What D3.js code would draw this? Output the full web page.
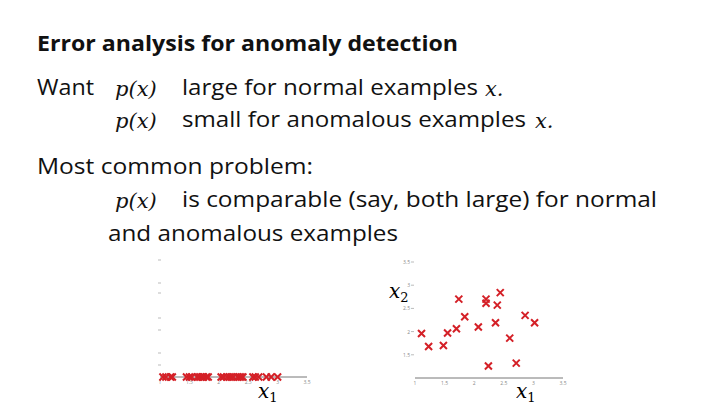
<!DOCTYPE html>
<html><head><meta charset="utf-8">
<script src="https://cdn.jsdelivr.net/npm/d3@7"></script>
<style>body{margin:0;background:#fff}</style></head>
<body><svg id="chart-svg" width="720" height="405"></svg>
<script>
// 1-D view: x1 values only
const leftX = [1.05,1.1,1.18,1.21,1.45,1.5,1.54,1.63,1.66,1.69,1.72,1.74,1.79,1.82,2.04,2.08,2.14,2.18,2.21,2.25,2.32,2.35,2.38,2.41,2.58,2.62,2.68,2.81,2.89,3.0];
// 2-D view
const ptX = [1.11,1.23,1.48,1.55,1.70,1.74,1.84,2.07,2.20,2.20,2.24,2.36,2.39,2.44,2.60,2.71,2.86,3.02];
const ptY = [1.96,1.68,1.70,1.97,2.06,2.70,2.32,2.10,2.70,2.61,1.26,2.19,2.57,2.84,1.86,1.32,2.35,2.19];
const xTicks = [1,1.5,2,2.5,3,3.5];
const yTicks = [1,1.5,2,2.5,3,3.5];

const svg = d3.select("#chart-svg");
const font = "'Open Sans', sans-serif";
const mathFont = "'DejaVu Serif', 'Liberation Serif', serif";

function txt(x, y, s, opts = {}) {
  const t = svg.append("text").attr("x", x).attr("y", y).text(s)
    .attr("font-family", opts.math ? mathFont : font)
    .attr("font-size", opts.size || 21)
    .attr("font-weight", opts.bold ? "bold" : "normal")
    .attr("font-style", opts.italic ? "italic" : "normal")
    .attr("fill", "#111");
  if (opts.len) t.attr("textLength", opts.len).attr("lengthAdjust", "spacingAndGlyphs");
}
txt(37, 51, "Error analysis for anomaly detection", {bold: true, len: 421});
txt(37, 95, "Want", {len: 57});
txt(115, 96, "p(x)", {math: true, italic: true});
txt(182, 95, "large for normal examples", {len: 296});
txt(485, 96, "x.", {math: true, italic: true});
txt(115, 128, "p(x)", {math: true, italic: true});
txt(182, 127, "small for anomalous examples", {len: 344});
txt(535, 128, "x.", {math: true, italic: true});
txt(37, 174, "Most common problem:", {len: 276});
txt(115, 208, "p(x)", {math: true, italic: true});
txt(182, 207, "is comparable (say, both large) for normal", {len: 475});
txt(108, 241, "and anomalous examples", {len: 290});

function cross(g, cx, cy) {
  g.append("path").attr("d", `M${cx-3.5},${cy-3.5}L${cx+3.5},${cy+3.5}M${cx-3.5},${cy+3.5}L${cx+3.5},${cy-3.5}`)
    .attr("stroke", "#d42027").attr("stroke-width", 2);
}
function tickLabels(g, x, y0) {
  xTicks.forEach(t => g.append("text").attr("x", x(t)).attr("y", y0 + 7)
    .attr("text-anchor", "middle").attr("font-size", 5).attr("fill", "#888")
    .attr("font-family", font).text(t));
}

// Left plot
const xl = d3.scaleLinear().domain([1, 3.5]).range([160, 307]);
const gl = svg.append("g");
gl.append("line").attr("x1", 160).attr("x2", 307).attr("y1", 377).attr("y2", 377).attr("stroke", "#777");
[260, 283, 293, 318, 330, 353, 365].forEach(y =>
  gl.append("line").attr("x1", 158).attr("x2", 161).attr("y1", y).attr("y2", y).attr("stroke", "#bbb"));
tickLabels(gl, xl, 377);
leftX.forEach(v => cross(gl, xl(v), 377));
svg.append("text").attr("x", 258).attr("y", 398).attr("font-family", mathFont).attr("font-style", "italic")
  .attr("font-size", 20).text("x").append("tspan").attr("font-size", 13).attr("font-style", "normal").attr("dy", 4).text("1");

// Right plot
const xr = d3.scaleLinear().domain([1, 3.5]).range([415, 563]);
const yr = d3.scaleLinear().domain([1, 3.5]).range([378, 262]);
const gr = svg.append("g");
gr.append("line").attr("x1", 415).attr("x2", 563).attr("y1", 378).attr("y2", 378).attr("stroke", "#777");
tickLabels(gr, xr, 378);
yTicks.slice(1).forEach(t => {
  gr.append("text").attr("x", 410).attr("y", yr(t) + 2).attr("text-anchor", "end")
    .attr("font-size", 5).attr("fill", "#888").attr("font-family", font).text(t);
  gr.append("line").attr("x1", 411).attr("x2", 414).attr("y1", yr(t)).attr("y2", yr(t)).attr("stroke", "#bbb");
});
ptX.forEach((v, i) => cross(gr, xr(v), yr(ptY[i])));
svg.append("text").attr("x", 389).attr("y", 298).attr("font-family", mathFont).attr("font-style", "italic")
  .attr("font-size", 20).text("x").append("tspan").attr("font-size", 13).attr("font-style", "normal").attr("dy", 4).text("2");
svg.append("text").attr("x", 516).attr("y", 398).attr("font-family", mathFont).attr("font-style", "italic")
  .attr("font-size", 20).text("x").append("tspan").attr("font-size", 13).attr("font-style", "normal").attr("dy", 4).text("1");
</script></body></html>
